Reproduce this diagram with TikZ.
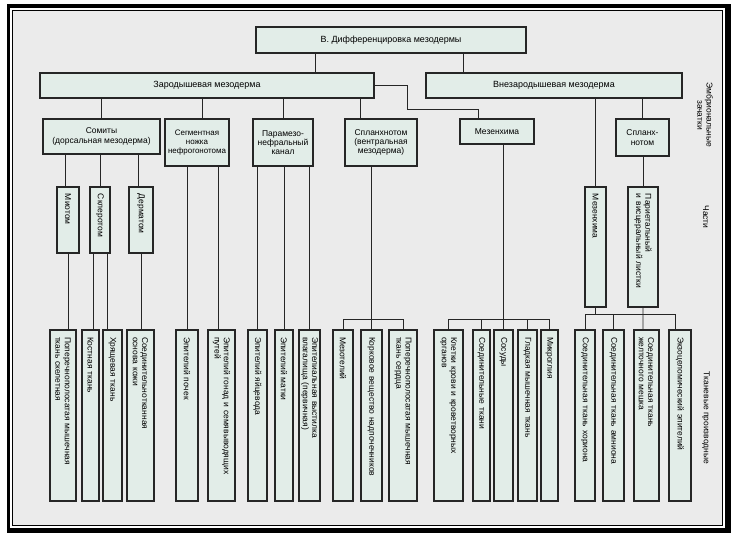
\documentclass[tikz,border=0pt]{standalone}
\usepackage{fontspec}
\setmainfont{Liberation Sans}
\usepackage{tikz}
\usetikzlibrary{calc}
\definecolor{fon}{HTML}{EBEBEB}
\definecolor{zalivka}{HTML}{E2EDE8}
\definecolor{kontur}{HTML}{262626}
\tikzset{
  zachbox/.style={draw=kontur,fill=zalivka,line width=1.1bp,inner sep=1bp,align=center},
  vbox/.style={zachbox,rotate=-90,align=left,inner sep=0pt},
  tkanbox/.style={vbox,minimum width=171bp,text width=157bp},
  liniya/.style={black!85,line width=0.7bp},
  bokovaya/.style={rotate=-90,align=center,inner sep=0pt}
}
\newcommand{\melko}{\fontsize{8.5}{9.3}\selectfont}
\newcommand{\uzko}{\fontsize{8}{9.3}\selectfont}
\newcommand{\krupno}{\fontsize{9}{10}\selectfont}

\begin{document}
\begin{tikzpicture}[x=1bp,y=-1bp,font=\melko]
  \useasboundingbox (0,0) rectangle (748,540);
  % ramka
  \fill[white] (0,0) rectangle (748,540);
  \fill[black] (7,4) rectangle (731,533);
  \fill[white] (10,8) rectangle (725,528);
  \fill[fon] (12,10) rectangle (723,526);
  \draw[black,line width=0.8bp] (12.5,10.5) rectangle (722.5,525.5);

  % verhnie urovni
  \node[zachbox,font=\krupno,minimum width=270bp,minimum height=26bp] (title) at (391,40) {В. Дифференцировка мезодермы};
  \node[zachbox,font=\krupno,minimum width=334bp,minimum height=25bp] (zar) at (207,85.5) {Зародышевая мезодерма};
  \node[zachbox,font=\krupno,minimum width=256bp,minimum height=25bp] (vnezar) at (554,85.5) {Внезародышевая мезодерма};

  \node[zachbox,minimum width=117bp,minimum height=35bp] (som) at (101.5,136.5) {Сомиты\\(дорсальная мезодерма)};
  \node[zachbox,font=\uzko,minimum width=64bp,minimum height=47bp] (segm) at (197,142.5) {Сегментная\\ножка\\нефрогонотома};
  \node[zachbox,minimum width=60bp,minimum height=47bp] (param) at (283,142.5) {Парамезо-\\нефральный\\канал};
  \node[zachbox,minimum width=72bp,minimum height=47bp] (splan) at (381,142.5) {Спланхнотом\\(вентральная\\мезодерма)};
  \node[zachbox,minimum width=74bp,minimum height=25bp] (mez) at (497,131.5) {Мезенхима};
  \node[zachbox,minimum width=53bp,minimum height=37bp] (splanv) at (642.5,137.5) {Спланх-\\нотом};

  % chasti
  \node[vbox,minimum width=66bp,text width=52bp,minimum height=22bp] (miotom) at (68,220) {Миотом};
  \node[vbox,minimum width=66bp,text width=52bp,minimum height=20bp] (skler) at (100,220) {Склеротом};
  \node[vbox,minimum width=66bp,text width=52bp,minimum height=24bp] (derm) at (141,220) {Дерматом};
  \node[vbox,minimum width=120bp,text width=106bp,minimum height=21bp] (mezv) at (595.5,247) {Мезенхима};
  \node[vbox,minimum width=120bp,text width=106bp,minimum height=30bp] (pariet) at (643,247) {Париетальный\\и висцеральный листки};

  % tkanevye proizvodnye
  \node[tkanbox,minimum height=26bp] (t1) at (63,415.5) {Поперечнополосатая мышечная\\ткань скелетная};
  \node[tkanbox,minimum height=17bp] (t2) at (90.5,415.5) {Костная ткань};
  \node[tkanbox,minimum height=19bp] (t3) at (112.5,415.5) {Хрящевая ткань};
  \node[tkanbox,minimum height=27bp] (t4) at (140.5,415.5) {Соединительнотканная\\основа кожи};
  \node[tkanbox,minimum height=22bp] (t5) at (187,415.5) {Эпителий почек};
  \node[tkanbox,minimum height=27bp] (t6) at (221.5,415.5) {Эпителий гонад и семявыводящих\\путей};
  \node[tkanbox,minimum height=19bp] (t7) at (257.5,415.5) {Эпителий яйцевода};
  \node[tkanbox,minimum height=18bp] (t8) at (284,415.5) {Эпителий матки};
  \node[tkanbox,minimum height=21bp] (t9) at (309.5,415.5) {Эпителиальная выстилка\\влагалища (первичная)};
  \node[tkanbox,minimum height=20bp] (t10) at (343,415.5) {Мезотелий};
  \node[tkanbox,minimum height=21bp] (t11) at (371.5,415.5) {Корковое вещество надпочечников};
  \node[tkanbox,minimum height=28bp] (t12) at (403,415.5) {Поперечнополосатая мышечная\\ткань сердца};
  \node[tkanbox,minimum height=29bp] (t13) at (448.5,415.5) {Клетки крови и кроветворных\\органов};
  \node[tkanbox,minimum height=17bp] (t14) at (481.5,415.5) {Соединительные ткани};
  \node[tkanbox,minimum height=19bp] (t15) at (503.5,415.5) {Сосуды};
  \node[tkanbox,minimum height=19bp] (t16) at (527.5,415.5) {Гладкая мышечная ткань};
  \node[tkanbox,minimum height=17bp] (t17) at (549.5,415.5) {Микроглия};
  \node[tkanbox,minimum height=20bp] (t18) at (585,415.5) {Соединительная ткань хориона};
  \node[tkanbox,minimum height=21bp] (t19) at (613.5,415.5) {Соединительная ткань амниона};
  \node[tkanbox,minimum height=25bp] (t20) at (646.5,415.5) {Соединительная ткань\\желточного мешка};
  \node[tkanbox,minimum height=22bp] (t21) at (680,415.5) {Экзоцеломический эпителий};

  % podpisi sprava
  \node[bokovaya] (zachatki) at (705,115) {Эмбриональные\\зачатки};
  \node[bokovaya] (chasti) at (706,217) {Части};
  \node[bokovaya] (proizv) at (706,418) {Тканевые производные};

  % svyazi
  \draw[liniya] ([xshift=-76bp]title.south) -- ([xshift=-76bp]title.south |- zar.north);
  \draw[liniya] ([xshift=72bp]title.south) -- ([xshift=72bp]title.south |- vnezar.north);
  \draw[liniya] (som.north) -- (som.north |- zar.south);
  \draw[liniya] ([xshift=5bp]segm.north) -- ([xshift=5bp]segm.north |- zar.south);
  \draw[liniya] (param.north) -- (param.north |- zar.south);
  \draw[liniya] ([xshift=-21bp]splan.north) -- ([xshift=-21bp]splan.north |- zar.south);
  \draw[liniya] (zar.east) -- ++(33,0) |- ([xshift=-19bp,yshift=9bp]mez.north) -- ([xshift=-19bp]mez.north);
  \draw[liniya] (mezv.west) -- (mezv.west |- vnezar.south);
  \draw[liniya] (splanv.north) -- (splanv.north |- vnezar.south);
  \draw[liniya] (pariet.west) -- (pariet.west |- splanv.south);

  \draw[liniya] ([xshift=-3bp]miotom.west) -- ([xshift=-3bp]miotom.west |- som.south);
  \draw[liniya] (skler.west) -- (skler.west |- som.south);
  \draw[liniya] ([xshift=-3bp]derm.west) -- ([xshift=-3bp]derm.west |- som.south);
  \draw[liniya] (miotom.east) -- (miotom.east |- t1.west);
  \draw[liniya] ([xshift=-7bp]skler.east) -- ([xshift=-7bp]skler.east |- t2.west);
  \draw[liniya] ([xshift=7bp]skler.east) -- ([xshift=7bp]skler.east |- t3.west);
  \draw[liniya] (derm.east) -- (derm.east |- t4.west);

  \draw[liniya] (t5.west) -- (t5.west |- segm.south);
  \draw[liniya] ([xshift=-3bp]t6.west) -- ([xshift=-3bp]t6.west |- segm.south);
  \draw[liniya] (t7.west) -- (t7.west |- param.south);
  \draw[liniya] (t8.west) -- (t8.west |- param.south);
  \draw[liniya] (t9.west) -- (t9.west |- param.south);

  \draw[liniya] (t11.west) -- (t11.west |- splan.south);
  \draw[liniya] (t10.west) -- ++(0,-10) -| (t12.west);

  \draw[liniya] (t15.west) -- (t15.west |- mez.south);
  \draw[liniya] (t13.west) -- ++(0,-10) -| (t17.west);
  \draw[liniya] (t14.west) -- ++(0,-10);
  \draw[liniya] (t16.west) -- ++(0,-10);

  \draw[liniya] (t18.west) -- ++(0,-15) -| ([xshift=-5bp]t21.west);
  \draw[liniya] (mezv.east) -- (mezv.east |- 0,315);
  \draw[liniya] (pariet.east) -- ([xshift=-3.5bp]t20.west);
  \draw[liniya] (t19.west) -- ++(0,-15);
\end{tikzpicture}
\end{document}
